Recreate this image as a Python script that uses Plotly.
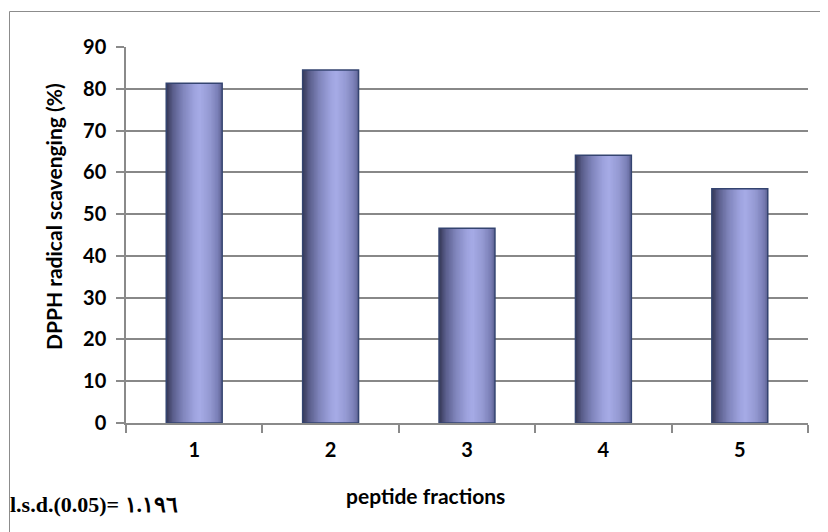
import plotly.graph_objects as go

categories = ["1", "2", "3", "4", "5"]
values = [81.3, 84.5, 46.6, 64.1, 56.1]
y_ticks = [0, 10, 20, 30, 40, 50, 60, 70, 80, 90]

x_title = "peptide fractions"
y_title = "DPPH radical scavenging (%)"
lsd_text = "l.s.d.(0.05)= \u0661.\u0661\u0669\u0666"

# gradient stops across bar width (position, rgb)
stops = [
    (0.00, (52, 55, 84)),
    (0.12, (90, 94, 140)),
    (0.30, (128, 133, 188)),
    (0.50, (158, 163, 222)),
    (0.60, (166, 171, 230)),
    (0.78, (148, 153, 210)),
    (0.92, (122, 127, 182)),
    (1.00, (96, 101, 150)),
]

def grad(t):
    for (p0, c0), (p1, c1) in zip(stops[:-1], stops[1:]):
        if p0 <= t <= p1:
            f = (t - p0) / (p1 - p0) if p1 > p0 else 0
            c = [round(a + (b - a) * f) for a, b in zip(c0, c1)]
            return "rgb(%d,%d,%d)" % tuple(c)
    return "rgb(%d,%d,%d)" % stops[-1][1]

BAR_W = 0.41
N = 40
step = BAR_W / N

fig = go.Figure()
for i in range(N):
    t = (i + 0.5) / N
    fig.add_trace(go.Bar(
        x=categories, y=values,
        width=step * 1.6 if i < N - 1 else step,
        offset=-BAR_W / 2 + i * step,
        marker=dict(color=grad(t), line=dict(width=0)),
        hoverinfo="skip", showlegend=False,
    ))
# outline
fig.add_trace(go.Bar(
    x=categories, y=values, width=BAR_W, offset=-BAR_W / 2,
    marker=dict(color="rgba(0,0,0,0)", line=dict(color="rgb(52,68,112)", width=1.5)),
    showlegend=False,
))

OFF = 8  # page body margin
W, H = 828, 532
PL, PR, PT, PB = 126 - OFF, 808 - OFF, 47 - OFF, 423 - OFF
pw, ph = PR - PL, PB - PT

def px(x):
    return (x - OFF - PL) / pw

def py(y):
    return (PB - (y - OFF)) / ph

fig.update_layout(
    width=W, height=H,
    margin=dict(l=PL, r=W - PR, t=PT, b=H - PB),
    barmode="overlay",
    paper_bgcolor="white", plot_bgcolor="white",
    font=dict(family="Lato", color="black"),
    xaxis=dict(
        type="category", tickson="boundaries",
        showline=True, linecolor="#8a8a8a", linewidth=1.5,
        ticks="outside", ticklen=8, tickcolor="#8a8a8a", tickwidth=1.5,
        ticklabelstandoff=8,
        tickfont=dict(family="Lato", size=20, color="black", weight="bold"),
        showgrid=False,
    ),
    yaxis=dict(
        range=[0, 90], tickvals=y_ticks,
        showline=True, linecolor="#8a8a8a", linewidth=1.5,
        ticks="outside", ticklen=8, tickcolor="#8a8a8a", tickwidth=1.5,
        ticklabelstandoff=6,
        showgrid=True, gridcolor="#888888", gridwidth=1.8,
        zeroline=False,
        tickfont=dict(family="Lato", size=20, color="black", weight="bold"),
    ),
    annotations=[
        dict(text=x_title, xref="paper", yref="paper", x=px(425), y=py(496),
             xanchor="center", yanchor="middle", showarrow=False,
             font=dict(family="Lato", size=21, color="black", weight="bold")),
        dict(text=y_title, xref="paper", yref="paper", x=px(53), y=py(217),
             xanchor="center", yanchor="middle", showarrow=False, textangle=-90,
             font=dict(family="Lato", size=21, color="black", weight="bold")),
        dict(text=lsd_text, xref="paper", yref="paper", x=px(8), y=py(504),
             xanchor="left", yanchor="middle", showarrow=False,
             font=dict(family="Liberation Serif", size=22, color="black", weight="bold")),
    ],
    shapes=[
        dict(type="rect", xref="paper", yref="paper",
             x0=px(9.5), y0=py(560), x1=px(860), y1=py(11.5),
             line=dict(color="#8c8c8c", width=1), fillcolor="rgba(0,0,0,0)",
             layer="below"),
    ],
)

fig.write_html("out.html")
